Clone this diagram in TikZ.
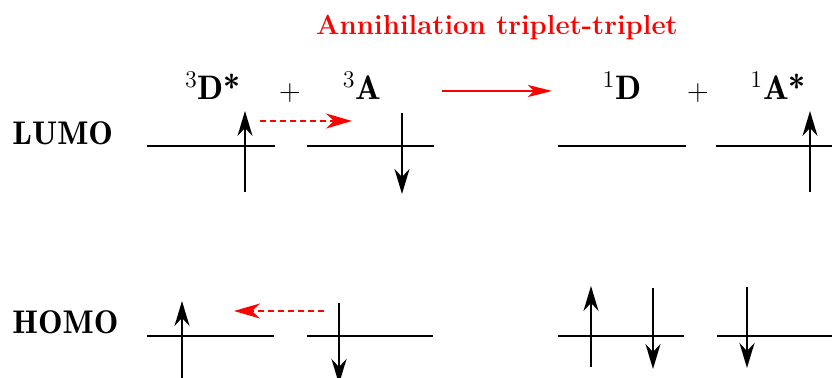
\documentclass[tikz,border=0pt]{standalone}
\usetikzlibrary{arrows.meta, positioning}
\tikzset{
  nivel/.style={line width=1pt, draw=black},
  espin/.style={-{Stealth[length=12.5pt, width=7.5pt, inset=4pt]}, line width=1pt},
  transfer/.style={-{Stealth[length=13pt, width=7.5pt, inset=4pt]}, draw=red,
                   line width=0.8pt, dash pattern=on 3pt off 2pt},
  reaccion/.style={-{Stealth[length=12pt, width=6pt, inset=3pt]}, draw=red,
                   line width=0.8pt}
}

\begin{document}
\begin{tikzpicture}[
  x=0.5pt, y=-0.5pt,
  titulo/.style={font=\fontsize{13.8}{16}\selectfont\bfseries, text=red,
                 inner sep=0pt, anchor=base},
  orbital/.style={font=\fontsize{16.4}{19}\fontseries{b}\selectfont,
                  inner sep=0pt, anchor=base west},
  especie/.style={font=\fontsize{17}{20}\fontseries{b}\selectfont,
                  inner sep=0pt, anchor=base},
  signo/.style={font=\fontsize{15}{18}\selectfont, inner sep=0pt}
]
  \useasboundingbox (0,0) rectangle (832,378);

  % ── Textos ──
  \node[titulo]  (titulo) at (497,35) {Annihilation triplet-triplet};
  \node[orbital] (lumo)   at (12,145) {LUMO};
  \node[orbital] (homo)   at (12,334) {HOMO};

  \node[especie] (Dtrip) at (213,100) {$^{3}$D*};
  \node[signo]   (mas1)  at (290,93) {+};
  \node[especie] (Atrip) at (362,100) {$^{3}$A};
  \node[especie] (Dsing) at (622,100) {$^{1}$D};
  \node[signo]   (mas2)  at (698,93) {+};
  \node[especie] (Asing) at (778,100) {$^{1}$A*};

  % ── Reaccion ──
  \coordinate (reac) at (442,91);
  \coordinate (prod) at (552,91);
  \draw[reaccion] (reac) -- (prod);

  % ── Niveles LUMO / HOMO ──
  \draw[nivel] (147,146) -- (275,146);
  \draw[nivel] (307,146) -- (434,146);
  \draw[nivel] (558,146) -- (686,146);
  \draw[nivel] (716,146) -- (832,146);
  \draw[nivel] (147,336) -- (274,336);
  \draw[nivel] (307,336) -- (433,336);
  \draw[nivel] (558,336) -- (684,336);
  \draw[nivel] (717,336) -- (832,336);

  % ── Espines ──
  \draw[espin] (245,192) -- (245,111);
  \draw[espin] (402,113) -- (402,194);
  \draw[espin] (810,192) -- (810,111);
  \draw[espin] (182,380) -- (182,301);
  \draw[espin] (339,303) -- (339,384);
  \draw[espin] (591,367) -- (591,286);
  \draw[espin] (653,288) -- (653,369);
  \draw[espin] (747,287) -- (747,368);

  % ── Transferencia de electrones ──
  \coordinate (lumoD) at (260,121);
  \coordinate (lumoA) at (352,121);
  \coordinate (homoA) at (324,311);
  \coordinate (homoD) at (234,311);
  \draw[transfer] (lumoD) -- (lumoA);
  \draw[transfer] (homoA) -- (homoD);
\end{tikzpicture}
\end{document}
